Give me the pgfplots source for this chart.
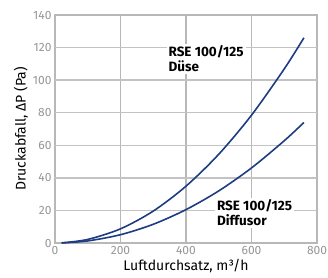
\documentclass[border=0pt]{standalone}
\usepackage{pgfplots}
\pgfplotsset{compat=1.18}
\usepackage{fontspec}
\setmainfont{Fira Sans}
\definecolor{curve}{RGB}{30,60,130}
\definecolor{tickc}{RGB}{150,150,150}
\definecolor{gridc}{RGB}{195,195,195}
\begin{document}
\begin{tikzpicture}
\begin{axis}[
  scale only axis,
  width=262pt, height=228pt,
  xmin=0, xmax=800, ymin=0, ymax=140,
  xtick={0,200,400,600,800}, ytick={0,20,40,60,80,100,120,140},
  grid=both,
  grid style={draw=black!28, line width=1.5pt},
  axis line style={draw=black!28, line width=1.5pt},
  tick style={draw=black!28, line width=1.5pt},
  tick align=inside,
  tick label style={tickc, font=\fontsize{12}{14}\selectfont},
  /pgf/number format/assume math mode=true,
  xlabel={Luftdurchsatz, m³/h},
  ylabel={Druckabfall, ΔP (Pa)},
  label style={font=\fontsize{14}{16}\selectfont},
  xlabel style={yshift=2pt},
  ylabel style={yshift=-2pt},
]
\foreach \yy in {20,40,60,80,100,120} {
  \edef\temp{\noexpand\draw[gridc, line width=1.5pt] (axis cs:0,\yy) -- (axis cs:800,\yy);}
  \temp
}
\addplot[curve, line width=1.6pt, smooth] coordinates {
 (20,0.09) (100,2.2) (200,8.7) (300,19.6) (400,34.9) (500,54.5) (600,78.5) (700,106.9) (760,126)};
\addplot[curve, line width=1.6pt, smooth] coordinates {
 (20,0.05) (100,1.28) (200,5.1) (300,11.5) (400,20.5) (500,32.0) (600,46.1) (700,62.8) (760,74)};
\coordinate (LA) at (axis cs:340,122.5);
\coordinate (LB) at (axis cs:488,28);
\end{axis}
\node[fill=white, anchor=north west, align=left, inner sep=2pt, font=\bfseries\fontsize{13.5}{15}\selectfont] at (LA) {RSE 100/125\\Düse};
\node[fill=white, anchor=north west, align=left, inner sep=2pt, font=\bfseries\fontsize{13.5}{15}\selectfont] at (LB) {RSE 100/125\\Diffusor};
\pgfresetboundingbox
\useasboundingbox ([shift={(-55pt,-34pt)}]current axis.south west) rectangle ([shift={(11pt,15pt)}]current axis.north east);
\end{tikzpicture}
\end{document}
